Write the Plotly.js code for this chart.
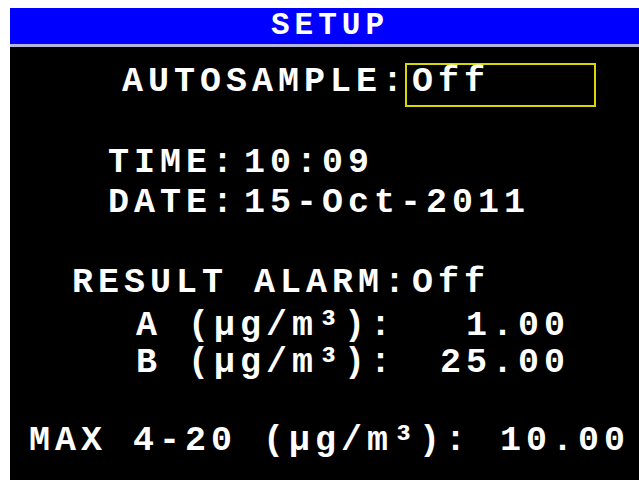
<!DOCTYPE html>
<html>
<head>
<meta charset="utf-8">
<script src="https://cdn.plot.ly/plotly-3.0.1.min.js"></script>
<style>
  html, body { margin: 0; padding: 0; background: #fff; }
  #chart { width: 639px; height: 480px; }
  .annotation-text { letter-spacing: 5px; }
</style>
</head>
<body>
<div id="chart"></div>
<script>
// Screen content
const screenTitle = "SETUP";
const fieldLabels = ["AUTOSAMPLE:", "TIME:", "DATE:", "RESULT ALARM:", "A (µg/m³):", "B (µg/m³):", "MAX 4-20 (µg/m³):"];
const fieldValues = ["Off", "10:09", "15-Oct-2011", "Off", "1.00", "25.00", "10.00"];

// Layout positions (pixel grid of the 639x480 screen)
const labelX = [120, 106, 106, 70, 134, 134, 27];
const valueX = [410, 242, 242, 410, 464, 438, 498];
const rowY   = [82, 163, 202.5, 282.5, 326, 362.5, 440.5];

const fontFamily = "Liberation Mono, DejaVu Sans Mono, monospace";
const textFont = {family: fontFamily, size: 35, color: "#ffffff", weight: "bold"};

const annotations = [];
fieldLabels.forEach((lab, i) => {
  annotations.push({
    x: labelX[i], y: rowY[i], xref: "x", yref: "y",
    text: lab, showarrow: false, xanchor: "left", yanchor: "middle",
    font: textFont
  });
  annotations.push({
    x: valueX[i], y: rowY[i], xref: "x", yref: "y",
    text: fieldValues[i], showarrow: false, xanchor: "left", yanchor: "middle",
    font: textFont
  });
});
annotations.push({
  x: 330, y: 25, xref: "x", yref: "y",
  text: screenTitle, showarrow: false, xanchor: "center", yanchor: "middle",
  font: {family: fontFamily, size: 31, color: "#ffffff", weight: "bold"}
});

const shapes = [
  {type: "rect", xref: "x", yref: "y", x0: 10, x1: 639, y0: 8, y1: 44, fillcolor: "#0000ff", line: {width: 0}, layer: "below"},
  {type: "rect", xref: "x", yref: "y", x0: 10, x1: 639, y0: 44, y1: 47, fillcolor: "#b4b4dc", line: {width: 0}, layer: "below"},
  {type: "rect", xref: "x", yref: "y", x0: 10, x1: 639, y0: 47, y1: 480, fillcolor: "#000000", line: {width: 0}, layer: "below"},
  {type: "rect", xref: "x", yref: "y", x0: 406, x1: 595, y0: 64, y1: 106, fillcolor: "rgba(0,0,0,0)", line: {color: "#d8d800", width: 2}}
];

const layout = {
  width: 639, height: 480,
  margin: {l: 0, r: 0, t: 0, b: 0, pad: 0},
  paper_bgcolor: "#ffffff", plot_bgcolor: "#ffffff",
  showlegend: false,
  xaxis: {range: [0, 639], visible: false, fixedrange: true},
  yaxis: {range: [480, 0], visible: false, fixedrange: true},
  shapes: shapes,
  annotations: annotations
};

Plotly.newPlot("chart", [], layout, {staticPlot: true, displayModeBar: false});
</script>
</body>
</html>
